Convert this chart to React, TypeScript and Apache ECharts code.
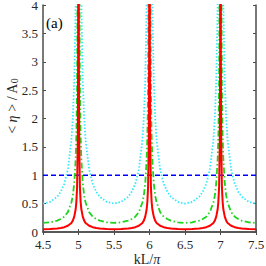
import React, { useEffect, useRef } from "react";
import * as echarts from "echarts";

const xValues = [
  4.5, 4.6, 4.7, 4.75, 4.8, 4.85, 4.9, 4.92, 4.94, 4.96, 4.97, 4.98, 4.99, 4.995, 5,
  5.005, 5.01, 5.02, 5.03, 5.04, 5.06, 5.08, 5.1, 5.15, 5.2, 5.25, 5.3, 5.4, 5.5,
  5.6, 5.7, 5.75, 5.8, 5.85, 5.9, 5.92, 5.94, 5.96, 5.97, 5.98, 5.99, 5.995, 6,
  6.005, 6.01, 6.02, 6.03, 6.04, 6.06, 6.08, 6.1, 6.15, 6.2, 6.25, 6.3, 6.4, 6.5,
  6.6, 6.7, 6.75, 6.8, 6.85, 6.9, 6.92, 6.94, 6.96, 6.97, 6.98, 6.99, 6.995, 7,
  7.005, 7.01, 7.02, 7.03, 7.04, 7.06, 7.08, 7.1, 7.15, 7.2, 7.25, 7.3, 7.4, 7.5,
];

const cyanValues = [
  0.5, 0.53, 0.62, 0.71, 0.85, 1.1, 1.62, 2.01, 2.67, 4.0, 5.3, 7.9, 16, 32, 60,
  32, 16, 7.9, 5.3, 4.0, 2.67, 2.01, 1.62, 1.1, 0.85, 0.71, 0.62, 0.53, 0.5,
  0.53, 0.62, 0.71, 0.85, 1.1, 1.62, 2.01, 2.67, 4.0, 5.3, 7.9, 16, 32, 60,
  32, 16, 7.9, 5.3, 4.0, 2.67, 2.01, 1.62, 1.1, 0.85, 0.71, 0.62, 0.53, 0.5,
  0.53, 0.62, 0.71, 0.85, 1.1, 1.62, 2.01, 2.67, 4.0, 5.3, 7.9, 16, 32, 60,
  32, 16, 7.9, 5.3, 4.0, 2.67, 2.01, 1.62, 1.1, 0.85, 0.71, 0.62, 0.53, 0.5,
];

const greenValues = [
  0.16, 0.17, 0.2, 0.23, 0.27, 0.35, 0.52, 0.64, 0.86, 1.28, 1.7, 2.54, 5.2, 10, 60,
  10, 5.2, 2.54, 1.7, 1.28, 0.86, 0.64, 0.52, 0.35, 0.27, 0.23, 0.2, 0.17, 0.16,
  0.17, 0.2, 0.23, 0.27, 0.35, 0.52, 0.64, 0.86, 1.28, 1.7, 2.54, 5.2, 10, 60,
  10, 5.2, 2.54, 1.7, 1.28, 0.86, 0.64, 0.52, 0.35, 0.27, 0.23, 0.2, 0.17, 0.16,
  0.17, 0.2, 0.23, 0.27, 0.35, 0.52, 0.64, 0.86, 1.28, 1.7, 2.54, 5.2, 10, 60,
  10, 5.2, 2.54, 1.7, 1.28, 0.86, 0.64, 0.52, 0.35, 0.27, 0.23, 0.2, 0.17, 0.16,
];

const redValues = [
  0.05, 0.053, 0.062, 0.071, 0.085, 0.11, 0.16, 0.2, 0.27, 0.4, 0.53, 0.79, 1.6, 3.2, 60,
  3.2, 1.6, 0.79, 0.53, 0.4, 0.27, 0.2, 0.16, 0.11, 0.085, 0.071, 0.062, 0.053, 0.05,
  0.053, 0.062, 0.071, 0.085, 0.11, 0.16, 0.2, 0.27, 0.4, 0.53, 0.79, 1.6, 3.2, 60,
  3.2, 1.6, 0.79, 0.53, 0.4, 0.27, 0.2, 0.16, 0.11, 0.085, 0.071, 0.062, 0.053, 0.05,
  0.053, 0.062, 0.071, 0.085, 0.11, 0.16, 0.2, 0.27, 0.4, 0.53, 0.79, 1.6, 3.2, 60,
  3.2, 1.6, 0.79, 0.53, 0.4, 0.27, 0.2, 0.16, 0.11, 0.085, 0.071, 0.062, 0.053, 0.05,
];

const baselineX = [4.5, 7.5];
const baselineValues = [1, 1];

const FONT = "'Liberation Serif', 'Times New Roman', serif";
const AXIS_COLOR = "#4d4d4d";
const TEXT_COLOR = "#262626";

function pairs(xs: number[], ys: number[]) {
  return xs.map((x, i) => [x, ys[i]]);
}

export default function App() {
  const ref = useRef<HTMLDivElement>(null);
  useEffect(() => {
    if (!ref.current) return;
    const chart = echarts.init(ref.current, null, { renderer: "svg" });
    const axisBase = {
      axisLine: { show: true, lineStyle: { color: AXIS_COLOR, width: 1.5 } },
      axisTick: { show: true, inside: true, length: 3, lineStyle: { color: AXIS_COLOR } },
      splitLine: { show: false },
    };
    chart.setOption({
      animation: false,
      backgroundColor: "#ffffff",
      grid: { left: 43, right: 10, top: 5, bottom: 34, containLabel: false, outerBoundsMode: "none" },
      xAxis: [
        {
          type: "value",
          min: 4.5,
          max: 7.5,
          interval: 0.5,
          position: "bottom",
          ...axisBase,
          axisLabel: { fontFamily: FONT, fontSize: 13, lineHeight: 10, color: TEXT_COLOR, margin: 7 },
        },
        {
          type: "value",
          min: 4.5,
          max: 7.5,
          interval: 0.5,
          position: "top",
          ...axisBase,
          axisLabel: { show: false },
        },
      ],
      yAxis: [
        {
          type: "value",
          min: 0,
          max: 4,
          interval: 0.5,
          position: "left",
          ...axisBase,
          axisLabel: { fontFamily: FONT, fontSize: 13, lineHeight: 10, color: TEXT_COLOR, margin: 5 },
        },
        {
          type: "value",
          min: 0,
          max: 4,
          interval: 0.5,
          position: "right",
          ...axisBase,
          axisLabel: { show: false },
        },
      ],
      series: [
        {
          type: "line",
          data: pairs(baselineX, baselineValues),
          showSymbol: false,
          symbol: "none",
          clip: true,
          lineStyle: { color: "#0000ff", width: 1.6, type: [5, 3] },
        },
        {
          type: "line",
          data: pairs(xValues, cyanValues),
          symbol: "none",
          clip: true,
          lineStyle: { color: "#33e8ff", width: 1.8, type: [1.5, 1.8] },
        },
        {
          type: "line",
          data: pairs(xValues, greenValues),
          symbol: "none",
          clip: true,
          lineStyle: { color: "#1ed41e", width: 1.8, type: [6, 2.5, 1.5, 2.5] },
        },
        {
          type: "line",
          data: pairs(xValues, redValues),
          symbol: "none",
          clip: true,
          lineStyle: { color: "#ff0000", width: 2 },
        },
      ],
      graphic: [
        {
          type: "text",
          x: 46,
          y: 15,
          style: { text: "(a)", fontFamily: FONT, fontSize: 15, fill: "#000000" },
        },
        {
          type: "text",
          x: 147,
          y: 259,
          style: {
            text: "kL/{i|π}",
            fontFamily: FONT,
            fontSize: 14,
            lineHeight: 12,
            fill: TEXT_COLOR,
            align: "center",
            verticalAlign: "middle",
            rich: { i: { fontFamily: FONT, fontSize: 14, lineHeight: 12, fontStyle: "italic", fill: TEXT_COLOR } },
          },
        },
        {
          type: "text",
          x: 12,
          y: 106,
          rotation: Math.PI / 2,
          style: {
            text: "< {i|η} > / A{s|0}",
            fontFamily: FONT,
            fontSize: 14,
            fill: TEXT_COLOR,
            align: "center",
            verticalAlign: "middle",
            rich: {
              i: { fontFamily: FONT, fontSize: 14, fontStyle: "italic", fill: TEXT_COLOR },
              s: { fontFamily: FONT, fontSize: 10, fill: TEXT_COLOR, verticalAlign: "bottom" },
            },
          },
        },
      ],
    });
    return () => chart.dispose();
  }, []);
  return <div ref={ref} style={{ width: 266, height: 266, position: "absolute", left: 0, top: 0 }} />;
}
